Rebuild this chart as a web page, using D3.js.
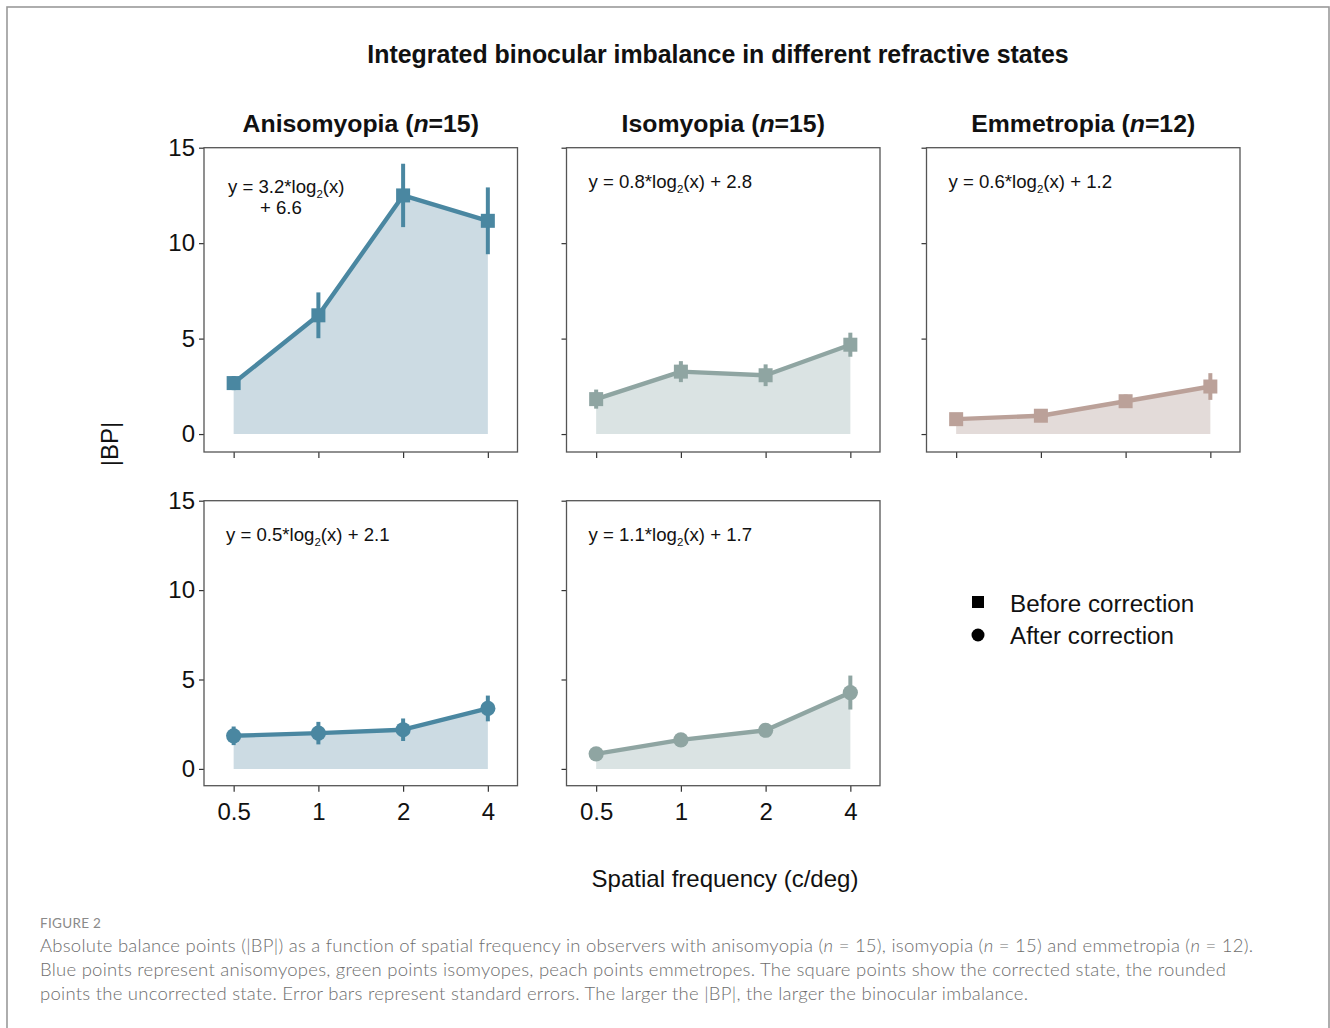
<!DOCTYPE html>
<html>
<head>
<meta charset="utf-8">
<script src="https://cdn.jsdelivr.net/npm/d3@7/dist/d3.min.js"></script>
<style>
  html, body { margin: 0; padding: 0; background: #fff; }
  svg { display: block; }
  .sans { font-family: "Liberation Sans", Arial, Helvetica, sans-serif; }
  .cap { font-family: Lato, "Open Sans", sans-serif; }
</style>
</head>
<body>
<svg id="fig" width="1330" height="1028"></svg>
<script>
// Spatial frequencies (c/deg) shown on the x axis
const freqs = ["0.5", "1", "2", "4"];
const yTicks = [0, 5, 10, 15];

// |BP| means and standard errors, before correction (square markers)
const anisoBefore   = [2.67, 6.22, 12.5, 11.17];
const anisoBeforeSE = [0.37, 1.20, 1.66, 1.75];
const isoBefore     = [1.83, 3.27, 3.08, 4.68];
const isoBeforeSE   = [0.50, 0.55, 0.57, 0.63];
const emmeBefore    = [0.78, 0.96, 1.72, 2.49];
const emmeBeforeSE  = [0.20, 0.20, 0.35, 0.70];

// |BP| means and standard errors, after correction (round markers)
const anisoAfter    = [1.85, 2.00, 2.19, 3.38];
const anisoAfterSE  = [0.52, 0.63, 0.63, 0.72];
const isoAfter      = [0.84, 1.62, 2.16, 4.27];
const isoAfterSE    = [0.20, 0.25, 0.38, 0.95];

// Fitted equations for each panel
const fitSlopes     = ["3.2", "0.8", "0.6", "0.5", "1.1"];
const fitIntercepts = ["6.6", "2.8", "1.2", "2.1", "1.7"];

const groupTitles = [["Anisomyopia", "15"], ["Isomyopia", "15"], ["Emmetropia", "12"]];
const legendLabels = ["Before correction", "After correction"];

const palette = {
  aniso: { line: "#4a87a1", fill: "#ccdbe3" },
  iso:   { line: "#8fa5a2", fill: "#dae3e3" },
  emme:  { line: "#bba199", fill: "#e3dbd9" }
};

const svg = d3.select("#fig");

// outer frame of the figure
svg.append("rect")
  .attr("x", 7).attr("y", 7).attr("width", 1322).attr("height", 1040)
  .attr("fill", "none").attr("stroke", "#9a9a9a").attr("stroke-width", 1.6);

// main title
svg.append("text").attr("class", "sans")
  .attr("x", 718).attr("y", 63)
  .attr("text-anchor", "middle")
  .attr("font-size", 24.9).attr("font-weight", "bold").attr("fill", "#111")
  .text("Integrated binocular imbalance in different refractive states");

// panel geometry
const colLeft = [204, 566.5, 926.5];
const panelW = 313.5;
const rows = [
  { top: 147.7, bottom: 452.0 },
  { top: 500.7, bottom: 785.7 }
];
const yMin = -0.94;

const panels = [
  { row: 0, col: 0, vals: anisoBefore, se: anisoBeforeSE, col_: palette.aniso, shape: "square", fit: 0, title: 0 },
  { row: 0, col: 1, vals: isoBefore,   se: isoBeforeSE,   col_: palette.iso,   shape: "square", fit: 1, title: 1 },
  { row: 0, col: 2, vals: emmeBefore,  se: emmeBeforeSE,  col_: palette.emme,  shape: "square", fit: 2, title: 2 },
  { row: 1, col: 0, vals: anisoAfter,  se: anisoAfterSE,  col_: palette.aniso, shape: "circle", fit: 3 },
  { row: 1, col: 1, vals: isoAfter,    se: isoAfterSE,    col_: palette.iso,   shape: "circle", fit: 4 }
];

function addEquation(g, x, y, slope, intercept, split) {
  const t = g.append("text").attr("class", "sans")
    .attr("x", x).attr("y", y)
    .attr("font-size", 18.6).attr("fill", "#111");
  t.append("tspan").text("y = " + slope + "*log");
  t.append("tspan").attr("font-size", 11.5).attr("dy", 5).text("2");
  if (split) {
    t.append("tspan").attr("dy", -5).text("(x)");
    g.append("text").attr("class", "sans")
      .attr("x", x + 32).attr("y", y + 21)
      .attr("font-size", 18.6).attr("fill", "#111")
      .text("+ " + intercept);
  } else {
    t.append("tspan").attr("dy", -5).text("(x) + " + intercept);
  }
}

panels.forEach(p => {
  const left = colLeft[p.col];
  const right = left + panelW;
  const r = rows[p.row];

  const x = d3.scalePoint().domain(freqs).range([left, right]).padding(0.35);
  const y = d3.scaleLinear().domain([yMin, 15]).range([r.bottom, r.top]);

  const g = svg.append("g");

  // axes (ticks outside the frame)
  const yAxis = d3.axisLeft(y).tickValues(yTicks).tickSize(5).tickPadding(4);
  if (p.col !== 0) yAxis.tickFormat("");
  const ya = g.append("g").attr("transform", `translate(${left},0)`).call(yAxis);

  const xAxis = d3.axisBottom(x).tickSize(6).tickPadding(11);
  if (p.row === 0) xAxis.tickFormat("");
  const xa = g.append("g").attr("transform", `translate(0,${r.bottom})`).call(xAxis);

  [ya, xa].forEach(a => {
    a.select(".domain").remove();
    a.selectAll(".tick line").attr("stroke", "#333").attr("stroke-width", 1.2);
    a.selectAll(".tick text")
      .attr("class", "sans").attr("font-size", 24).attr("fill", "#111");
  });

  const pts = freqs.map((f, i) => ({ f, v: p.vals[i], se: p.se[i] }));

  // shaded area under the curve
  g.append("path").datum(pts)
    .attr("fill", p.col_.fill)
    .attr("d", d3.area().x(d => x(d.f)).y0(y(0)).y1(d => y(d.v)));

  // error bars
  g.selectAll("line.err").data(pts).join("line").attr("class", "err")
    .attr("x1", d => x(d.f)).attr("x2", d => x(d.f))
    .attr("y1", d => y(d.v - d.se)).attr("y2", d => y(d.v + d.se))
    .attr("stroke", p.col_.line).attr("stroke-width", 4);

  // connecting line
  g.append("path").datum(pts)
    .attr("fill", "none").attr("stroke", p.col_.line).attr("stroke-width", 4.4)
    .attr("stroke-linejoin", "round")
    .attr("d", d3.line().x(d => x(d.f)).y(d => y(d.v)));

  // markers
  if (p.shape === "square") {
    const s = 14;
    g.selectAll("rect.mk").data(pts).join("rect").attr("class", "mk")
      .attr("x", d => x(d.f) - s / 2).attr("y", d => y(d.v) - s / 2)
      .attr("width", s).attr("height", s).attr("fill", p.col_.line);
  } else {
    g.selectAll("circle.mk").data(pts).join("circle").attr("class", "mk")
      .attr("cx", d => x(d.f)).attr("cy", d => y(d.v)).attr("r", 7.6)
      .attr("fill", p.col_.line);
  }

  // panel frame
  g.append("rect")
    .attr("x", left).attr("y", r.top).attr("width", panelW).attr("height", r.bottom - r.top)
    .attr("fill", "none").attr("stroke", "#555").attr("stroke-width", 1.3);

  // fitted equation
  const split = p.fit === 0;
  addEquation(g, left + (split ? 24 : 22), r.top + (split ? 45 : 40.5),
    fitSlopes[p.fit], fitIntercepts[p.fit], split);

  // group title
  if (p.title !== undefined) {
    const t = svg.append("text").attr("class", "sans")
      .attr("x", left + panelW / 2).attr("y", 132)
      .attr("text-anchor", "middle")
      .attr("font-size", 24.8).attr("font-weight", "bold").attr("fill", "#111");
    t.append("tspan").text(groupTitles[p.title][0] + " (");
    t.append("tspan").attr("font-style", "italic").text("n");
    t.append("tspan").text("=" + groupTitles[p.title][1] + ")");
  }
});

// shared axis titles
svg.append("text").attr("class", "sans")
  .attr("transform", "translate(118,444) rotate(-90)")
  .attr("text-anchor", "middle").attr("font-size", 24).attr("fill", "#111")
  .text("|BP|");

svg.append("text").attr("class", "sans")
  .attr("x", 725).attr("y", 887)
  .attr("text-anchor", "middle").attr("font-size", 24).attr("fill", "#111")
  .text("Spatial frequency (c/deg)");

// legend
const lg = svg.append("g");
lg.append("rect").attr("x", 972).attr("y", 596).attr("width", 12).attr("height", 12).attr("fill", "#000");
lg.append("circle").attr("cx", 978).attr("cy", 635).attr("r", 6.5).attr("fill", "#000");
legendLabels.forEach((l, i) => {
  lg.append("text").attr("class", "sans")
    .attr("x", 1010).attr("y", 612 + i * 32)
    .attr("font-size", 24.2).attr("fill", "#111").text(l);
});

// caption
svg.append("text").attr("class", "cap")
  .attr("x", 40).attr("y", 928)
  .attr("font-size", 13.5).attr("fill", "#8a8a8a").attr("letter-spacing", 0.3)
  .text("FIGURE 2");

const captionLines = [
  [["Absolute balance points (|BP|) as a function of spatial frequency in observers with anisomyopia (", 0], ["n", 1],
   [" = 15), isomyopia (", 0], ["n", 1], [" = 15) and emmetropia (", 0], ["n", 1], [" = 12).", 0]],
  [["Blue points represent anisomyopes, green points isomyopes, peach points emmetropes. The square points show the corrected state, the rounded", 0]],
  [["points the uncorrected state. Error bars represent standard errors. The larger the |BP|, the larger the binocular imbalance.", 0]]
];
captionLines.forEach((parts, i) => {
  const t = svg.append("text").attr("class", "cap")
    .attr("x", 40).attr("y", 952 + i * 24)
    .attr("font-size", 18.5).attr("fill", "#6e6e6e").attr("font-weight", 300)
    .attr("letter-spacing", 0.25);
  parts.forEach(([s, it]) => {
    const ts = t.append("tspan").text(s);
    if (it) ts.attr("font-style", "italic");
  });
});
</script>
</body>
</html>
